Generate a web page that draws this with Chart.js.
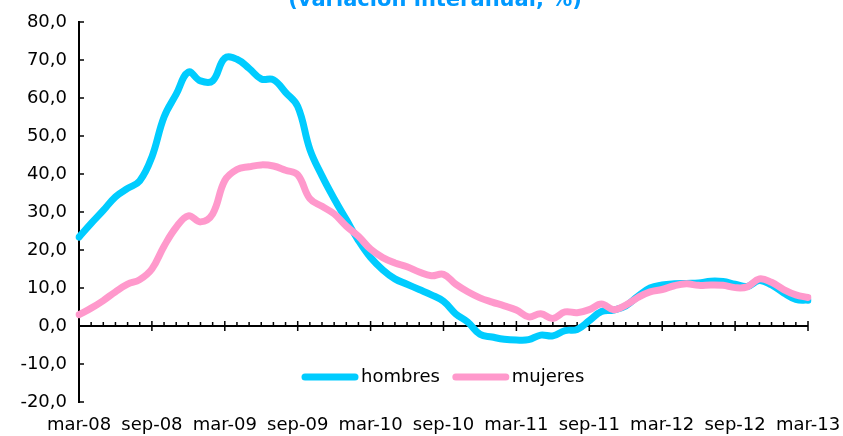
<!DOCTYPE html>
<html>
<head>
<meta charset="utf-8">
<script src="https://cdn.jsdelivr.net/npm/chart.js@4.4.1/dist/chart.umd.min.js"></script>
<style>
  html, body { margin: 0; padding: 0; background: #fff; }
  #wrap { width: 843px; height: 436px; }
</style>
</head>
<body>
<div id="wrap"><canvas id="chart"></canvas></div>
<script>
// monthly series, mar-08 .. mar-13
const monthNames = ['ene', 'feb', 'mar', 'abr', 'may', 'jun', 'jul', 'ago', 'sep', 'oct', 'nov', 'dic'];
const tickLabels = ['mar-08', 'sep-08', 'mar-09', 'sep-09', 'mar-10', 'sep-10', 'mar-11', 'sep-11', 'mar-12', 'sep-12', 'mar-13'];

const hombres = [
  23.4, 27.0, 30.4, 34.0, 36.2, 38.2, 44.5, 55.0, 61.0, 66.8, 64.5, 64.5,
  70.5, 70.2, 67.8, 65.0, 64.8, 61.5, 57.8, 46.5, 39.5, 33.5, 28.0, 22.5,
  18.0, 14.8, 12.4, 11.0, 9.6, 8.2, 6.5, 3.2, 1.0, -2.2, -2.9, -3.5,
  -3.7, -3.6, -2.4, -2.6, -1.2, -0.9, 1.4, 3.8, 4.2, 5.3, 7.8, 10.0,
  10.8, 11.1, 11.2, 11.3, 11.8, 11.7, 11.0, 10.4, 12.0, 10.8, 8.7, 7.0,
  6.8
];
const mujeres = [
  3.0, 4.7, 6.7, 9.0, 11.0, 12.2, 15.0, 21.0, 26.0, 29.0, 27.4, 29.5,
  38.3, 41.2, 41.9, 42.4, 42.1, 41.0, 39.8, 33.5, 31.5, 29.5, 26.3, 23.6,
  20.2, 18.0, 16.6, 15.6, 14.2, 13.2, 13.6, 11.0, 9.0, 7.4, 6.3, 5.3,
  4.2, 2.4, 3.2, 2.0, 3.7, 3.5, 4.3, 5.8, 4.3, 5.5, 7.5, 9.0,
  9.6, 10.6, 11.1, 10.7, 10.8, 10.7, 10.1, 10.3, 12.4, 11.5, 9.6, 8.2,
  7.5
];

const months = [];
for (let i = 0; i < hombres.length; i++) {
  const m = (2 + i) % 12;
  const yr = 8 + Math.floor((2 + i) / 12);
  months.push(monthNames[m] + '-' + String(yr).padStart(2, '0'));
}

const FONT = '"DejaVu Sans", Verdana, sans-serif';

// zero line with monthly ticks, inner ticks on the value axis
const axisLines = {
  id: 'axisLines',
  beforeDatasetsDraw(chart) {
    const { ctx, scales: { x, y } } = chart;
    const y0 = y.getPixelForValue(0);
    ctx.save();
    ctx.strokeStyle = '#000';
    ctx.lineWidth = 2;
    ctx.beginPath();
    ctx.moveTo(x.left, y0);
    ctx.lineTo(x.right, y0);
    ctx.stroke();
    ctx.lineWidth = 1.5;
    ctx.beginPath();
    months.forEach((m, i) => {
      const px = x.getPixelForValue(i);
      if (tickLabels.includes(m)) {
        ctx.moveTo(px, y0 - 5);
        ctx.lineTo(px, y0 + 5);
      } else {
        ctx.moveTo(px, y0 - 4);
        ctx.lineTo(px, y0);
      }
    });
    y.ticks.forEach(t => {
      const py = y.getPixelForValue(t.value);
      ctx.moveTo(x.left, py);
      ctx.lineTo(x.left + 5, py);
    });
    ctx.stroke();
    ctx.restore();
  }
};

const titleAndLegend = {
  id: 'titleAndLegend',
  afterDraw(chart) {
    const ctx = chart.ctx;
    ctx.save();
    ctx.fillStyle = '#0099ff';
    ctx.font = 'bold 21px ' + FONT;
    ctx.textAlign = 'center';
    ctx.textBaseline = 'alphabetic';
    ctx.fillText('(variación interanual, %)', 435, 6);

    ctx.font = '18px ' + FONT;
    ctx.textAlign = 'left';
    ctx.textBaseline = 'middle';
    let lx = 305;
    const ly = 377;
    chart.data.datasets.forEach(ds => {
      ctx.strokeStyle = ds.borderColor;
      ctx.lineWidth = 7;
      ctx.lineCap = 'round';
      ctx.beginPath();
      ctx.moveTo(lx, ly);
      ctx.lineTo(lx + 50, ly);
      ctx.stroke();
      ctx.fillStyle = '#000';
      ctx.fillText(ds.label, lx + 56, ly);
      lx += 56 + ctx.measureText(ds.label).width + 16;
    });
    ctx.restore();
  }
};

new Chart(document.getElementById('chart'), {
  type: 'line',
  data: {
    labels: months,
    datasets: [
      {
        label: 'hombres',
        data: hombres,
        borderColor: '#00ccff',
        borderWidth: 7,
        borderCapStyle: 'round',
        borderJoinStyle: 'round',
        pointRadius: 0,
        tension: 0.4,
        order: 1,
      },
      {
        label: 'mujeres',
        data: mujeres,
        borderColor: '#ff99cc',
        borderWidth: 7,
        borderCapStyle: 'round',
        borderJoinStyle: 'round',
        pointRadius: 0,
        tension: 0.4,
        order: 0,
      },
    ],
  },
  options: {
    responsive: true,
    maintainAspectRatio: false,
    animation: false,
    layout: { padding: { top: 22, right: 35, left: 0, bottom: 0 } },
    plugins: {
      legend: { display: false },
      title: { display: false },
      tooltip: { enabled: false },
    },
    scales: {
      x: {
        type: 'category',
        offset: false,
        grid: { display: false, drawTicks: false },
        border: { display: false },
        ticks: {
          autoSkip: false,
          maxRotation: 0,
          padding: 13,
          color: '#000',
          font: { family: FONT, size: 18 },
          callback: (v, i) => (tickLabels.includes(months[i]) ? months[i] : null),
        },
        afterFit: s => {
          s.height = 34;
          s.paddingRight = 0;
          s.paddingLeft = 0;
        },
      },
      y: {
        min: -20,
        max: 80,
        grid: { display: false, drawTicks: false },
        border: { display: true, color: '#000', width: 2 },
        ticks: {
          stepSize: 10,
          padding: 12,
          color: '#000',
          font: { family: FONT, size: 18 },
          callback: v => v.toFixed(1).replace('.', ','),
        },
        afterFit: s => {
          s.width = 79;
          s.paddingTop = 0;
          s.paddingBottom = 0;
        },
      },
    },
  },
  plugins: [axisLines, titleAndLegend],
});
</script>
</body>
</html>
